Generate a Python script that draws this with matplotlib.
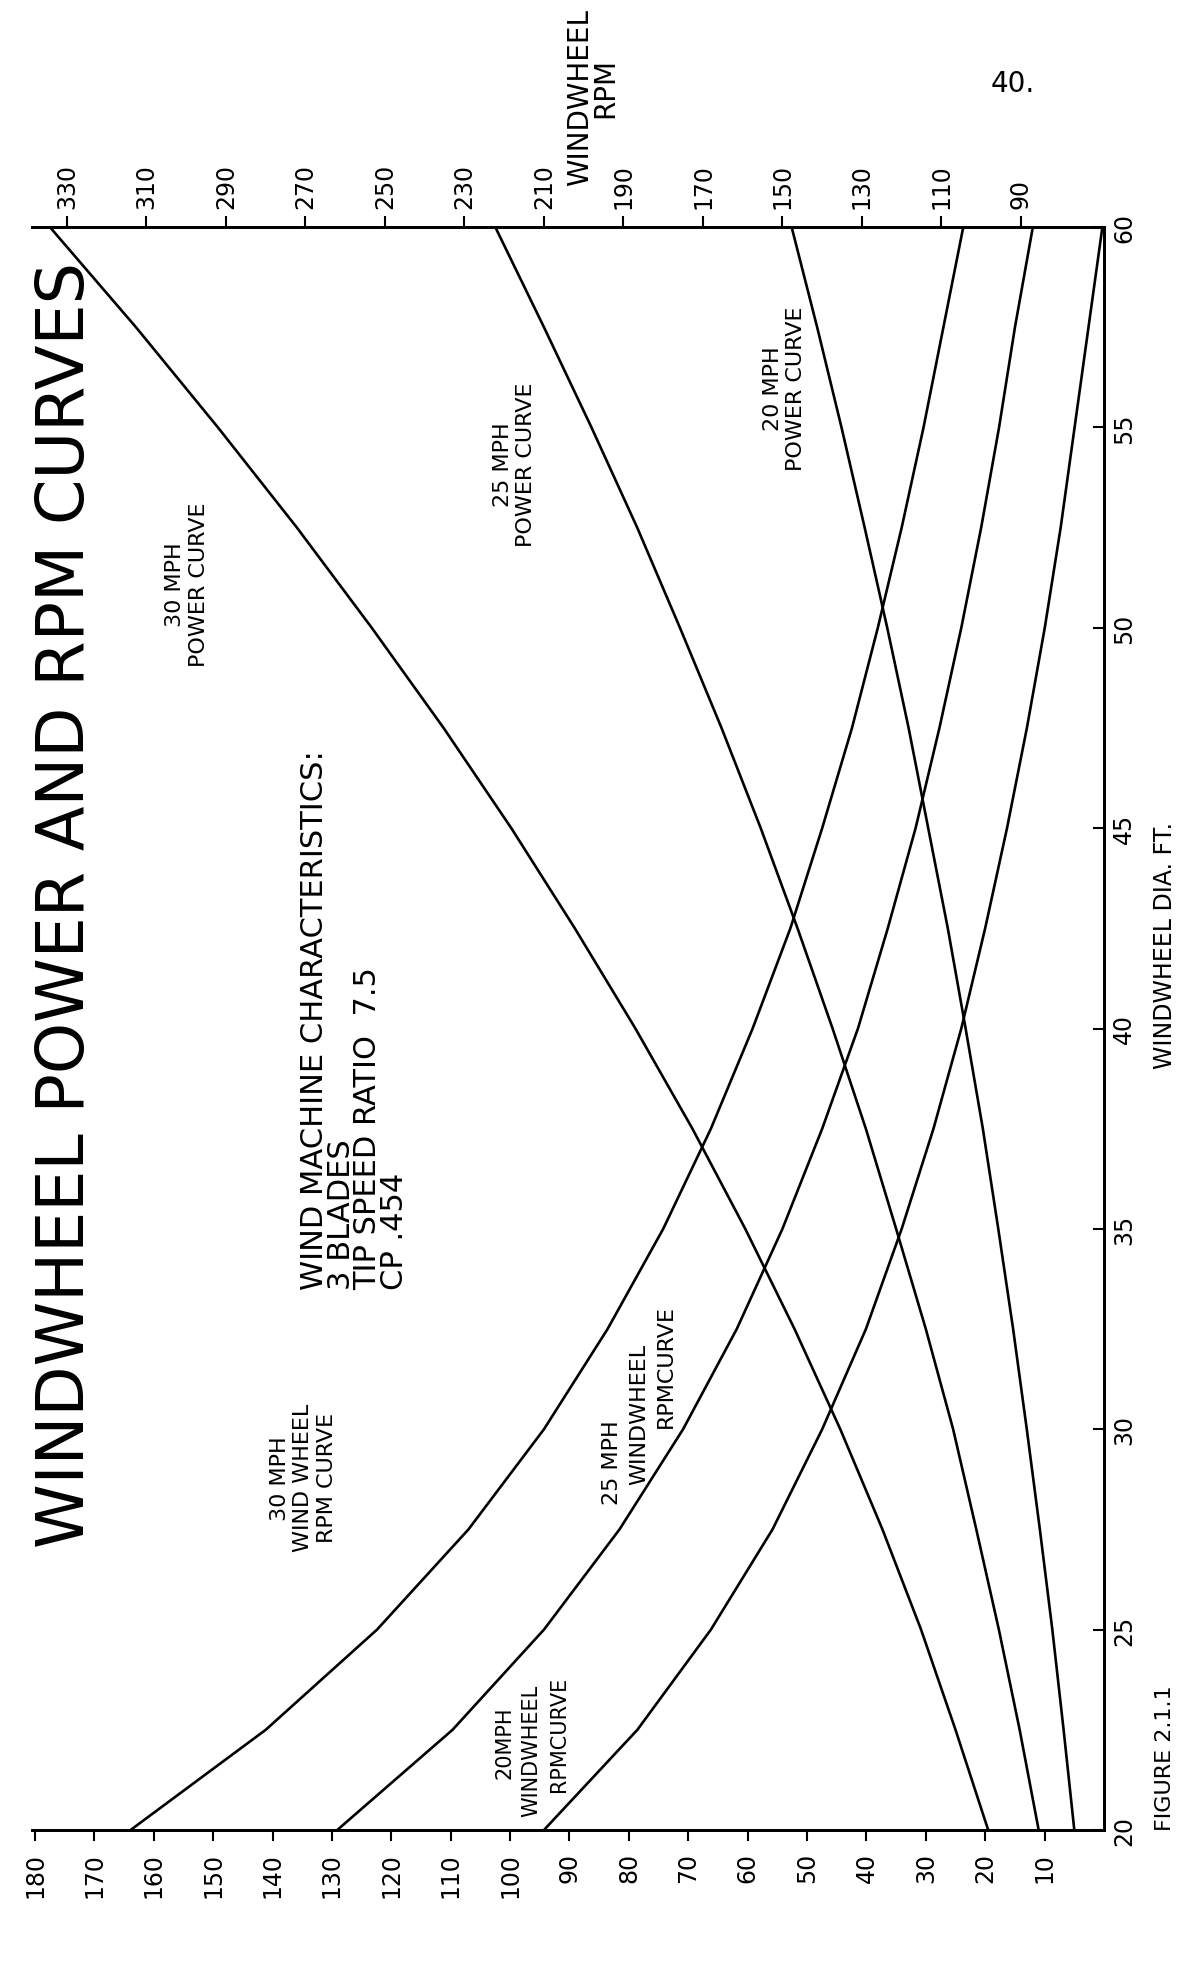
import matplotlib
matplotlib.use("Agg")
import matplotlib.pyplot as plt

# windwheel diameter, ft (read every 2.5 ft along the right hand scale)
diameter = [20, 22.5, 25, 27.5, 30, 32.5, 35, 37.5, 40, 42.5, 45, 47.5, 50, 52.5, 55, 57.5, 60]

# power curves
power_30 = [19.5, 25.0, 30.8, 37.3, 44.4, 52.1, 60.4, 69.3, 78.9, 89.1, 99.8, 111.2, 123.3, 135.9, 149.2, 163.0, 177.5]
power_25 = [11.0, 14.2, 17.7, 21.5, 25.4, 30.0, 35.0, 40.1, 45.7, 51.6, 57.8, 64.4, 71.4, 78.6, 86.3, 94.3, 102.5]
power_20 = [5.0, 6.8, 8.7, 10.8, 13.0, 15.3, 17.8, 20.4, 23.3, 26.3, 29.6, 32.9, 36.5, 40.3, 44.2, 48.3, 52.6]

# rpm curves
rpm_30 = [314, 280, 252, 229, 210, 194, 180, 168, 157.5, 148, 140, 132.5, 126, 120, 114.5, 109.5, 104.5]
rpm_25 = [262, 233, 210, 191, 175, 161.5, 150, 140, 131, 123.5, 116.5, 110.5, 105, 100, 95.5, 91.5, 87]
rpm_20 = [210, 186.5, 168, 152.5, 140, 129, 120, 112, 105, 99, 93.5, 88.5, 84, 80, 76.5, 73, 69.5]

power_ticks = list(range(10, 190, 10))
rpm_ticks = list(range(90, 350, 20))
dia_ticks = [20, 25, 30, 35, 40, 45, 50, 55, 60]

fig = plt.figure(figsize=(11.83, 19.83), dpi=100)
ax = fig.add_axes([32 / 1183, 152 / 1983, 1072 / 1183, 1603 / 1983])
ax2 = ax.twiny()

lw = 1.9
ax.plot(power_30, diameter, color="black", lw=lw)
ax.plot(power_25, diameter, color="black", lw=lw)
ax.plot(power_20, diameter, color="black", lw=lw)
ax2.plot(rpm_30, diameter, color="black", lw=lw)
ax2.plot(rpm_25, diameter, color="black", lw=lw)
ax2.plot(rpm_20, diameter, color="black", lw=lw)

ax.set_xlim(180.5, 0)
ax.set_ylim(20, 60)
ax2.set_xlim(338.8, 69.1)

for a in (ax, ax2):
    a.spines["left"].set_visible(False)
    for s in ("top", "bottom", "right"):
        a.spines[s].set_linewidth(2)

ax.set_xticks(power_ticks)
ax.set_xticklabels([str(v) for v in power_ticks])
ax.tick_params(axis="x", direction="out", length=8, width=1.5, labelsize=17, labelrotation=90, pad=8)

ax.yaxis.tick_right()
ax.set_yticks(dia_ticks)
ax.set_yticklabels([str(v) for v in dia_ticks])
ax.tick_params(axis="y", direction="in", length=8, width=1.5, labelsize=17, labelrotation=90, pad=6)
for lab in ax.get_yticklabels():
    lab.set_va("center")

ax2.set_xticks(rpm_ticks)
ax2.set_xticklabels([str(v) for v in rpm_ticks])
ax2.tick_params(axis="x", direction="out", length=8, width=1.5, labelsize=17, labelrotation=90, pad=6)

txt = dict(rotation=90, ha="center", va="center", multialignment="center", color="black")

ax.text(174.8, 43.1, "WINDWHEEL POWER AND RPM CURVES", fontsize=47, **txt)

ax.text(154.4, 51.1, "30 MPH\nPOWER CURVE", fontsize=16, **txt)
ax.text(99.3, 54.1, "25 MPH\nPOWER CURVE", fontsize=16, **txt)
ax.text(53.8, 56.0, "20 MPH\nPOWER CURVE", fontsize=16, **txt)

ax.text(126.2, 33.5, "WIND MACHINE CHARACTERISTICS:\n3 BLADES\nTIP SPEED RATIO  7.5\nCP .454",
        fontsize=22, rotation=90, ha="center", va="bottom", multialignment="left", linespacing=0.9)

ax.text(134.8, 28.8, "30 MPH\nWIND WHEEL\nRPM CURVE", fontsize=16, **txt)

ax.text(82.9, 29.2, "25 MPH", fontsize=16, **txt)
ax.text(78.2, 30.4, "WINDWHEEL", fontsize=16, **txt)
ax.text(73.7, 31.6, "RPMCURVE", fontsize=16, **txt)

ax.text(100.9, 22.2, "20MPH", fontsize=15, **txt)
ax.text(96.4, 22.0, "WINDWHEEL", fontsize=15, **txt)
ax.text(91.7, 22.4, "RPMCURVE", fontsize=15, **txt)

# label of the top (rpm) scale, two separate lines
ax.text(88.3, 63.25, "WINDWHEEL", fontsize=20, clip_on=False, **txt)
ax.text(84.0, 63.5, "RPM", fontsize=20, clip_on=False, **txt)

ax.text(-10.3, 42.1, "WINDWHEEL DIA. FT.", fontsize=17, clip_on=False, **txt)
ax.text(-10.3, 20.0, "FIGURE 2.1.1", fontsize=16, rotation=90, ha="center", va="bottom", clip_on=False)

fig.text(1013 / 1183, 1 - 84 / 1983, "40.", fontsize=20, ha="center", va="center")

fig.savefig("out.png", dpi=100)
